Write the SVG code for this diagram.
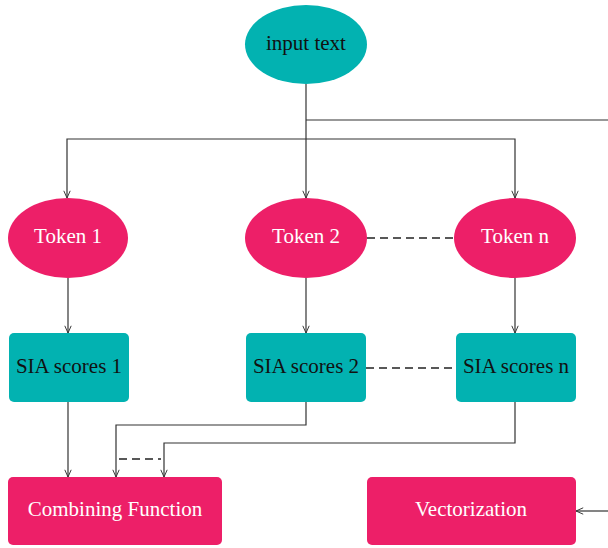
<svg xmlns="http://www.w3.org/2000/svg" width="608" height="548" viewBox="0 0 608 548">
<style>
.teal{fill:#02b2b1}
.pink{fill:#ed1f68}
.lbl{font-family:"Liberation Serif","DejaVu Serif",serif;font-size:21px;text-anchor:middle;dominant-baseline:central}
.dark{fill:#111}
.light{fill:#fff}
.ln{fill:none;stroke:#333;stroke-width:1.2}
.dash{fill:none;stroke:#222;stroke-width:1.4;stroke-dasharray:8,5}
</style>
<defs>
<marker id="arr" viewBox="0 0 10 10" refX="10" refY="5" markerWidth="8" markerHeight="8" orient="auto" markerUnits="userSpaceOnUse">
<path d="M1,1 L10,5 L1,9" fill="none" stroke="#333" stroke-width="1.2"/>
</marker>
</defs>
<g id="connectors">
<path class="ln" d="M306,84 V198" marker-end="url(#arr)"/>
<path class="ln" d="M306,120 H608"/>
<path class="ln" d="M306,139 H67 V198" marker-end="url(#arr)"/>
<path class="ln" d="M306,139 H515 V198" marker-end="url(#arr)"/>
<path class="dash" d="M367,238 H454"/>
<path class="ln" d="M68,278 V333" marker-end="url(#arr)"/>
<path class="ln" d="M306,278 V333" marker-end="url(#arr)"/>
<path class="ln" d="M515,278 V333" marker-end="url(#arr)"/>
<path class="dash" d="M366,368 H456"/>
<path class="ln" d="M68,402 V477" marker-end="url(#arr)"/>
<path class="ln" d="M306,402 V425 H116 V477" marker-end="url(#arr)"/>
<path class="ln" d="M515,402 V443 H164 V477" marker-end="url(#arr)"/>
<path class="dash" d="M119,459 H161"/>
<path class="ln" d="M608,511 H576" marker-end="url(#arr)"/>
</g>
<g id="input">
<ellipse class="teal" cx="306" cy="44.5" rx="61" ry="39.5"/>
<text class="lbl dark" x="306" y="43">input text</text>
</g>
<g id="token1">
<ellipse class="pink" cx="68" cy="238" rx="60" ry="40"/>
<text class="lbl light" x="68" y="236">Token 1</text>
</g>
<g id="token2">
<ellipse class="pink" cx="306" cy="238" rx="61" ry="40"/>
<text class="lbl light" x="306" y="236">Token 2</text>
</g>
<g id="tokenn">
<ellipse class="pink" cx="515" cy="238" rx="61" ry="40"/>
<text class="lbl light" x="515" y="236">Token n</text>
</g>
<g id="sia1">
<rect class="teal" x="9" y="333" width="120" height="69" rx="5"/>
<text class="lbl dark" x="69" y="366">SIA scores 1</text>
</g>
<g id="sia2">
<rect class="teal" x="246" y="333" width="120" height="69" rx="5"/>
<text class="lbl dark" x="306" y="366">SIA scores 2</text>
</g>
<g id="sian">
<rect class="teal" x="456" y="333" width="120" height="69" rx="5"/>
<text class="lbl dark" x="516" y="366">SIA scores n</text>
</g>
<g id="combining">
<rect class="pink" x="8" y="477" width="214" height="68" rx="5"/>
<text class="lbl light" x="115" y="509">Combining Function</text>
</g>
<g id="vectorization">
<rect class="pink" x="367" y="477" width="209" height="68" rx="5"/>
<text class="lbl light" x="471" y="509">Vectorization</text>
</g>
</svg>
